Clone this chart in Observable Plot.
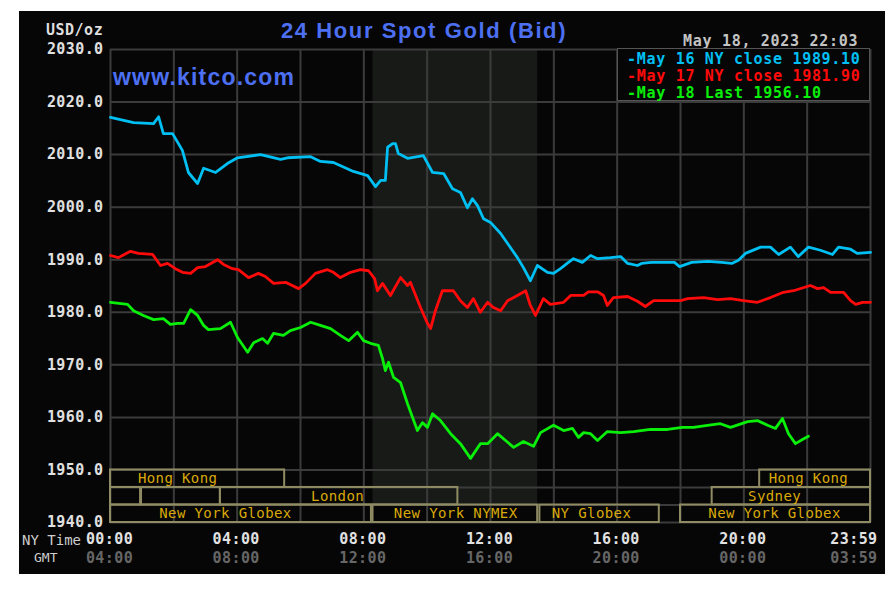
<!DOCTYPE html>
<html><head><meta charset="utf-8">
<script src="https://cdn.jsdelivr.net/npm/d3@7"></script>
<script src="https://cdn.jsdelivr.net/npm/@observablehq/plot@0.6"></script>
<style>
body{margin:0;background:#fff;}
#panel{position:absolute;left:19px;top:11px;width:866px;height:563px;background:#060606;overflow:hidden;}
#chart{position:absolute;left:0;top:0;}
.ov{position:absolute;white-space:pre;}
.mono{font-family:"DejaVu Sans Mono",monospace;}
#title{left:205px;width:400px;top:9px;text-align:center;font:bold 22px/22px "Liberation Sans",Arial,sans-serif;letter-spacing:1.6px;color:#4d70f2;}
#kitco{left:94px;top:55px;font:bold 23px/23px "Liberation Sans",Arial,sans-serif;letter-spacing:1.2px;color:#4d70f2;}
#date{left:664px;top:23px;font-size:15px;line-height:15px;font-weight:bold;letter-spacing:0.7px;color:#c4c4c4;}
#unit{left:27px;top:12px;font-size:15px;line-height:15px;font-weight:bold;letter-spacing:0.5px;color:#dedede;}
#legend{left:598px;top:37px;border:1px solid #555;background:#060606;padding:2px 0 0 9px;box-sizing:border-box;width:253px;height:53px;}
#legend div{font-size:15px;line-height:17px;font-weight:bold;letter-spacing:0.7px;white-space:pre;}
#nyt{left:3px;top:522px;font-size:14px;line-height:14px;color:#cfcfcf;}
#gmt{left:15px;top:540px;font-size:13px;line-height:13px;color:#cfcfcf;}
</style></head><body>
<div id="panel">
 <div id="chart"></div>
 <div class="ov" id="title">24 Hour Spot Gold (Bid)</div>
 <div class="ov" id="kitco">www.kitco.com</div>
 <div class="ov mono" id="date">May 18, 2023 22:03</div>
 <div class="ov mono" id="unit">USD/oz</div>
 <div class="ov mono" id="legend"></div>
 <div class="ov mono" id="nyt">NY Time</div>
 <div class="ov mono" id="gmt">GMT</div>
</div>
<script>
// ---- data (hours since 00:00 NY time, USD/oz) ----
const may16Time = [0,0.73,1.36,1.52,1.67,1.96,2.27,2.46,2.75,2.94,3.32,3.69,4.01,4.74,5.37,5.59,6.32,6.63,7.04,7.67,8.12,8.37,8.53,8.68,8.75,8.91,9.0,9.09,9.38,9.88,10.17,10.52,10.80,11.05,11.27,11.43,11.59,11.78,12.0,12.32,12.54,12.85,13.04,13.26,13.48,13.80,13.99,14.21,14.42,14.62,14.90,15.16,15.38,15.79,16.11,16.33,16.64,16.77,17.08,17.81,17.97,18.35,18.86,19.30,19.62,19.83,20.05,20.53,20.84,21.10,21.47,21.72,22.04,22.42,22.80,22.99,23.37,23.58,24.0];
const may16Price = [2017.1,2016.1,2015.9,2017.2,2014.0,2014.0,2010.8,2006.6,2004.5,2007.4,2006.6,2008.3,2009.4,2010.0,2009.1,2009.4,2009.6,2008.7,2008.5,2006.8,2006.0,2003.9,2005.1,2005.1,2011.4,2012.1,2012.1,2010.2,2009.3,2009.8,2006.6,2006.4,2003.5,2002.8,1999.9,2001.6,2000.3,1997.8,1997.1,1995.0,1993.1,1990.4,1988.5,1986.0,1988.9,1987.6,1987.4,1988.3,1989.3,1990.2,1989.5,1990.8,1990.2,1990.4,1990.6,1989.3,1988.9,1989.3,1989.5,1989.5,1988.7,1989.5,1989.7,1989.5,1989.3,1989.9,1991.2,1992.4,1992.4,1991.0,1992.4,1990.6,1992.4,1991.8,1991.0,1992.4,1992.0,1991.2,1991.4];
const may17Time = [0,0.25,0.63,0.88,1.33,1.58,1.80,2.05,2.27,2.53,2.75,3.0,3.38,3.57,3.85,4.04,4.36,4.67,4.89,5.15,5.53,5.94,6.16,6.47,6.85,7.04,7.26,7.58,7.89,8.15,8.34,8.43,8.59,8.84,9.16,9.38,9.47,9.79,10.01,10.11,10.26,10.48,10.83,11.05,11.27,11.46,11.68,11.91,12.09,12.32,12.54,12.85,13.11,13.26,13.42,13.67,13.89,14.31,14.53,14.94,15.09,15.38,15.57,15.69,15.88,16.33,16.64,16.89,17.15,18.0,18.22,18.73,19.17,19.58,19.99,20.43,20.84,21.25,21.57,22.10,22.33,22.52,22.74,23.15,23.37,23.53,23.75,24.0];
const may17Price = [1990.8,1990.4,1991.6,1991.2,1991.0,1988.9,1989.3,1988.3,1987.6,1987.4,1988.5,1988.7,1990.0,1989.1,1988.3,1988.1,1986.6,1987.4,1986.8,1985.5,1985.7,1984.5,1985.5,1987.4,1988.1,1987.6,1986.6,1987.6,1988.1,1987.9,1986.4,1984.1,1985.5,1983.2,1986.6,1985.1,1985.7,1980.9,1977.9,1976.9,1980.3,1984.1,1984.1,1982.2,1980.9,1982.6,1980.0,1981.9,1980.9,1980.3,1982.2,1983.2,1984.1,1981.3,1979.4,1982.6,1981.5,1981.9,1983.2,1983.2,1983.9,1983.9,1983.2,1981.3,1982.8,1983.0,1982.1,1981.1,1982.2,1982.2,1982.6,1982.8,1982.4,1982.6,1982.2,1981.9,1982.8,1983.8,1984.1,1985.1,1984.5,1984.7,1983.8,1983.8,1982.2,1981.5,1981.9,1981.9];
const may18Time = [0,0.54,0.73,1.04,1.36,1.67,1.89,2.12,2.31,2.53,2.75,2.94,3.09,3.47,3.79,4.01,4.33,4.52,4.80,4.96,5.15,5.46,5.68,6.0,6.32,6.63,6.95,7.26,7.52,7.80,7.99,8.21,8.46,8.59,8.68,8.78,8.94,9.16,9.38,9.69,9.85,10.01,10.17,10.42,10.74,11.05,11.37,11.68,11.91,12.22,12.73,13.04,13.36,13.58,13.99,14.31,14.59,14.78,14.94,15.16,15.38,15.69,16.11,16.52,17.05,17.59,18.06,18.41,18.85,19.26,19.58,20.12,20.43,20.75,21.0,21.22,21.41,21.63,21.85,22.04];
const may18Price = [1981.9,1981.5,1980.3,1979.4,1978.6,1978.8,1977.7,1977.9,1977.9,1980.5,1979.4,1977.5,1976.7,1976.9,1978.1,1975.2,1972.4,1974.2,1975.0,1974.1,1976.0,1975.6,1976.5,1977.1,1978.1,1977.5,1976.9,1975.6,1974.6,1976.2,1974.6,1974.1,1973.7,1971.2,1968.9,1970.5,1967.6,1966.6,1962.6,1957.5,1959.0,1958.1,1960.7,1959.4,1956.9,1955.0,1952.2,1955.0,1955.0,1956.9,1954.3,1955.4,1954.5,1957.1,1958.5,1957.5,1957.9,1956.2,1957.1,1956.9,1955.6,1957.3,1957.1,1957.3,1957.7,1957.7,1958.1,1958.1,1958.5,1958.8,1958.1,1959.2,1959.4,1958.5,1957.9,1959.8,1956.9,1955.0,1955.8,1956.4];

const seriesNames  = ["May 16 NY close 1989.10","May 17 NY close 1981.90","May 18 Last 1956.10"];
const seriesColors = ["#00bff2","#ff0a0a","#0aef0a"];

// trading sessions (row 0 = top band row)
const sessionName    = ["Hong Kong","","","London","New York Globex","New York NYMEX","NY Globex","Hong Kong","Sydney","New York Globex"];
const sessionStart   = [0,0,0.98,3.47,0,8.29,13.56,20.5,19.0,18.0];
const sessionEnd     = [5.5,0.95,3.47,10.97,8.24,13.49,17.33,24,24,24];
const sessionRow     = [0,1,1,1,2,2,2,0,1,2];
const sessionLabelAt = [2.12,null,null,7.17,3.63,10.9,15.19,22.04,20.97,20.97];

const yTicks      = [1940,1950,1960,1970,1980,1990,2000,2010,2020,2030];
const gridHours   = [0,2,4,6,8,10,12,14,16,18,20,22,24];
const xTickHours  = [0,4,8,12,16,20];
const nyLabels    = ["00:00","04:00","08:00","12:00","16:00","20:00"];
const gmtLabels   = ["04:00","08:00","12:00","16:00","20:00","00:00"];
const endHour = 24, endNy = "23:59", endGmt = "03:59";

// ---- build ----
const mk = (t, p) => t.map((d, i) => ({t: d, v: p[i]}));
const s16 = mk(may16Time, may16Price), s17 = mk(may17Time, may17Price), s18 = mk(may18Time, may18Price);
const bandTop = 1950, rowH = 10 / 3;
const sessions = sessionName.map((n, i) => ({
  name: n, x1: sessionStart[i], x2: sessionEnd[i],
  top: bandTop - sessionRow[i] * rowH, bottom: bandTop - (sessionRow[i] + 1) * rowH,
  at: sessionLabelAt[i]
}));
const nymex = sessions[5];
const shade = [{x1: nymex.x1, x2: nymex.x2, y1: bandTop - 2 * rowH, y2: 2030}];
const nyMap = new Map(xTickHours.map((h, i) => [h, nyLabels[i]]));
const gmtMap = new Map(xTickHours.map((h, i) => [h, gmtLabels[i]]));
const mono = "DejaVu Sans Mono, monospace";
const gridC = "#3b3b3b", boxC = "#8f8b63", txtC = "#d9a90a";

const chart = Plot.plot({
  width: 866, height: 563,
  marginLeft: 91, marginRight: 15, marginTop: 38, marginBottom: 52,
  style: {background: "transparent", color: "#e0e0e0", overflow: "visible"},
  x: {domain: [0, 24], axis: null},
  y: {domain: [1940, 2030], axis: null},
  marks: [
    Plot.rect(shade, {x1: "x1", x2: "x2", y1: "y1", y2: "y2", fill: "#181a18"}),
    Plot.ruleX(gridHours, {stroke: gridC, strokeWidth: 2}),
    Plot.ruleY(yTicks, {stroke: gridC, strokeWidth: 2}),
    Plot.ruleY([bandTop - rowH, bandTop - 2 * rowH], {stroke: gridC, strokeWidth: 2}),
    Plot.rect(sessions, {x1: "x1", x2: "x2", y1: "bottom", y2: "top", fill: "none", stroke: boxC, strokeWidth: 2}),
    Plot.text(sessions.filter(d => d.name), {x: "at", y: d => (d.top + d.bottom) / 2, text: "name", fill: txtC, fontSize: 14, fontFamily: mono}),
    Plot.line(s16, {x: "t", y: "v", stroke: seriesColors[0], strokeWidth: 2.8}),
    Plot.line(s17, {x: "t", y: "v", stroke: seriesColors[1], strokeWidth: 2.8}),
    Plot.line(s18, {x: "t", y: "v", stroke: seriesColors[2], strokeWidth: 2.8}),
    Plot.axisY({ticks: yTicks, tickFormat: d => d.toFixed(1), tickSize: 0, tickPadding: 7, fontSize: 15, fontWeight: "bold", fontFamily: mono, color: "#e0e0e0", label: null}),
    Plot.axisX({ticks: xTickHours, tickFormat: d => nyMap.get(d), tickSize: 0, tickPadding: 11, dx: -1, fontSize: 15, fontWeight: "bold", fontFamily: mono, color: "#e2e2e2", label: null}),
    Plot.axisX({ticks: xTickHours, tickFormat: d => gmtMap.get(d), tickSize: 0, tickPadding: 30, dx: -1, fontSize: 15, fontWeight: "bold", fontFamily: mono, color: "#666666", label: null}),
    Plot.text([endHour], {x: d => d, text: () => endNy, frameAnchor: "bottom", lineAnchor: "top", dy: 11, dx: 7, textAnchor: "end", fontSize: 15, fontWeight: "bold", fontFamily: mono, fill: "#e2e2e2"}),
    Plot.text([endHour], {x: d => d, text: () => endGmt, frameAnchor: "bottom", lineAnchor: "top", dy: 30, dx: 7, textAnchor: "end", fontSize: 15, fontWeight: "bold", fontFamily: mono, fill: "#666666"})
  ]
});
document.getElementById("chart").append(chart);
chart.querySelectorAll("text").forEach(t => t.style.letterSpacing = "0.4px");

const lg = document.getElementById("legend");
seriesNames.forEach((n, i) => {
  const d = document.createElement("div");
  d.textContent = "-" + n;
  d.style.color = seriesColors[i];
  lg.append(d);
});
</script>
</body></html>
